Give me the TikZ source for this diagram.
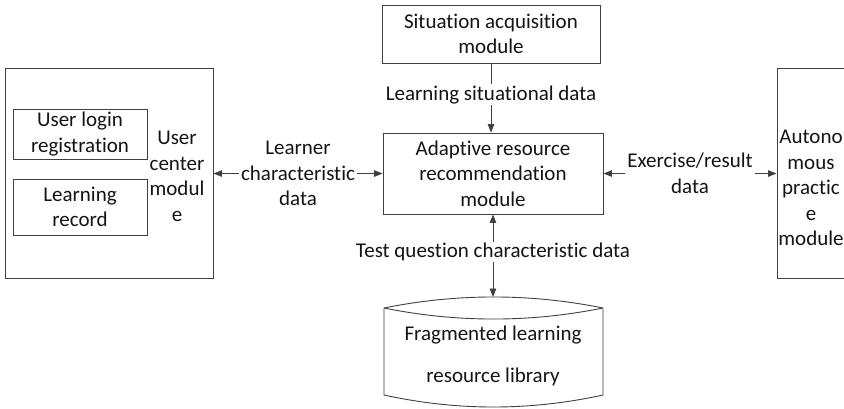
\documentclass[tikz,border=0pt]{standalone}
\usepackage{fontspec}
\setmainfont{Carlito}[Ligatures=NoCommon]
\usetikzlibrary{arrows.meta}
\begin{document}
\begin{tikzpicture}[x=1pt,y=-1pt,
  every node/.style={font=\fontsize{21}{25.5}\selectfont, text=black!92, inner sep=0pt},
  box/.style={draw=black!75, line width=0.9pt, align=center},
  tip/.tip={Triangle[length=8.5pt,width=6.5pt]},
  both/.style={draw=black!75, line width=0.9pt, tip-tip},
  single/.style={draw=black!75, line width=0.9pt, -tip},
  lbl/.style={fill=white, align=center, inner xsep=2pt, inner ysep=1pt}]
\clip (0,0) rectangle (844,408);

% user centre module with its two parts
\node[box, minimum width=208pt, minimum height=210pt] (user) at (109,173.5) {};
\node[box, minimum width=134pt, minimum height=50pt] (login) at (80,134) {User login\\registration};
\node[box, minimum width=134pt, minimum height=56pt] (record) at (80,207) {Learning\\record};
\node[align=center] (usertxt) at (177,176.5) {User\\center\\modul\\e};

% central and surrounding modules
\node[box, minimum width=220pt, minimum height=81pt] (adapt) at (493,173.5) {Adaptive resource\\recommendation\\module};
\node[box, minimum width=218pt, minimum height=58pt] (situ) at (491,34) {Situation acquisition\\module};
\node[box, minimum width=123pt, minimum height=210pt] (auto) at (838.5,173.5) {};
\node[align=center] (autotxt) at (811,188) {Autono\\mous\\practic\\e\\module};

% resource library (storage shape)
\draw[draw=black!75, line width=0.9pt]
  (384,308) .. controls (457,293.3) and (530,293.3) .. (603,308)
  (384,308) .. controls (457,322.7) and (530,322.7) .. (603,308)
  (384,308) -- (384,395) .. controls (457,411) and (530,411) .. (603,395) -- (603,308);
\coordinate (libtop) at (493,297);
\node[align=center] (lib) at (493,356) {Fragmented learning\\[16pt]resource library};

% data flows
\draw[both] (user.east) -- (adapt.west) node[midway, lbl] (l1) {Learner\\characteristic\\data};
\draw[both] (adapt.east) -- (auto.west) node[midway, lbl] (l2) {Exercise/result\\data};
\draw[single] (situ.south) -- (situ.south |- adapt.north) node[pos=0.45, lbl] (l3) {Learning situational data};
\draw[both] (adapt.south) -- (libtop) node[pos=0.45, lbl] (l4) {Test question characteristic data};
\end{tikzpicture}
\end{document}
